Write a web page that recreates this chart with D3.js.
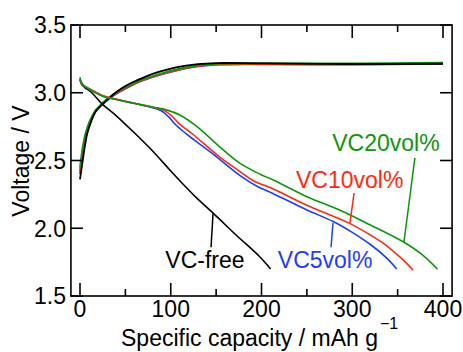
<!DOCTYPE html>
<html>
<head>
<meta charset="utf-8">
<script src="https://cdn.jsdelivr.net/npm/d3@7"></script>
<style>
  body { margin: 0; background: #fff; }
  text { font-family: "Liberation Sans", Arial, Helvetica, sans-serif; }
</style>
</head>
<body>
<svg id="chart" width="463" height="352"></svg>
<script>
// capacity (mAh/g), voltage (V)
const chargeFree = [[0,2.36],[3,2.5],[6,2.63],[8,2.70],[13,2.80],[18,2.87],[24,2.91],[32,2.96],[39,3.0],[50,3.05],[64,3.095],[80,3.14],[98,3.175],[115,3.198],[130,3.212],[150,3.219],[200,3.217],[300,3.212],[400,3.214]];
const chargeVC5 = [[0,2.40],[3,2.56],[6,2.67],[10,2.76],[16,2.85],[24,2.91],[33,2.96],[42,3.0],[55,3.047],[70,3.092],[88,3.132],[105,3.162],[120,3.183],[135,3.198],[155,3.208],[200,3.21],[300,3.208],[400,3.214]];
const chargeVC10 = [[0,2.42],[3,2.58],[6,2.68],[10,2.77],[16,2.855],[24,2.915],[33,2.965],[42,3.003],[55,3.05],[70,3.094],[88,3.134],[105,3.164],[120,3.185],[135,3.2],[155,3.21],[200,3.212],[300,3.21],[400,3.216]];
const chargeVC20 = [[0,2.45],[3,2.6],[6,2.70],[10,2.78],[16,2.86],[24,2.92],[33,2.97],[42,3.01],[55,3.055],[70,3.10],[88,3.14],[105,3.17],[120,3.19],[135,3.205],[155,3.215],[200,3.218],[300,3.216],[400,3.222]];

const dischargeFree = [[0,3.10],[2,3.06],[5,3.04],[13,3.0],[24,2.92],[40,2.83],[59,2.71],[80,2.57],[99,2.43],[115,2.315],[129,2.22],[147,2.11],[172,1.95],[198,1.79],[210,1.70]];
const dischargeVC5 = [[0,3.10],[1,3.08],[4,3.05],[12,3.02],[25,2.975],[40,2.95],[60,2.92],[80,2.89],[90,2.865],[98,2.82],[106,2.76],[121,2.676],[147,2.545],[176,2.39],[195,2.31],[213,2.255],[250,2.135],[279,2.05],[300,1.97],[320,1.88],[338,1.78],[349,1.70]];
const dischargeVC10 = [[0,3.10],[1,3.08],[4,3.055],[12,3.025],[25,2.98],[40,2.953],[60,2.922],[80,2.893],[93,2.868],[101,2.83],[108,2.78],[125,2.69],[154,2.525],[176,2.42],[191,2.35],[213,2.29],[250,2.17],[297,2.036],[320,1.95],[334,1.89],[356,1.766],[367,1.69]];
const dischargeVC20 = [[0,3.115],[1,3.085],[4,3.055],[12,3.02],[25,2.975],[40,2.95],[60,2.922],[80,2.895],[97,2.87],[110,2.836],[129,2.75],[154,2.60],[176,2.48],[198,2.40],[213,2.356],[250,2.233],[286,2.135],[320,2.024],[356,1.90],[378,1.80],[394,1.697]];

const seriesNames = ["VC-free", "VC5vol%", "VC10vol%", "VC20vol%"];
const seriesColors = ["#000000", "#1f3cff", "#ff2a10", "#0f960f"];
// label anchor (x, V) and leader line from/to (x, V)
const labelPos = [[94,1.707],[218,1.707],[238,2.297],[278,2.57]];
const leaderLines = [[[144.4,1.86],[146.6,2.11]],[[276.6,1.86],[278.8,2.04]],[[297.5,2.04],[302,2.26]],[[357,1.90],[369,2.52]]];

const xMajorTicks = [0, 100, 200, 300, 400];
const xMinorTicks = [50, 150, 250, 350];
const yTicks = [1.5, 2.0, 2.5, 3.0, 3.5];

const svg = d3.select('#chart');
const x = d3.scaleLinear().domain([0, 400]).range([80, 443]);
const y = d3.scaleLinear().domain([1.5, 3.5]).range([296, 25]);
const plotLeft = x(-10), plotRight = x(410), plotTop = y(3.5), plotBottom = y(1.5);

svg.append('defs').append('clipPath').attr('id', 'clip')
  .append('rect').attr('x', plotLeft).attr('y', plotTop)
  .attr('width', plotRight - plotLeft).attr('height', plotBottom - plotTop);

const line = d3.line().x(d => x(d[0])).y(d => y(d[1])).curve(d3.curveCatmullRom.alpha(0.5));

const charges = [chargeFree, chargeVC5, chargeVC10, chargeVC20];
const discharges = [dischargeFree, dischargeVC5, dischargeVC10, dischargeVC20];

const plot = svg.append('g').attr('clip-path', 'url(#clip)');
// draw order: blue, red, green, black on charge
[1, 2, 3, 0].forEach(i => {
  plot.append('path').datum(charges[i]).attr('d', line)
    .attr('fill', 'none').attr('stroke', seriesColors[i]).attr('stroke-width', 1.8);
});
[0, 1, 2, 3].forEach(i => {
  plot.append('path').datum(discharges[i]).attr('d', line)
    .attr('fill', 'none').attr('stroke', seriesColors[i]).attr('stroke-width', 1.6);
});

// frame
svg.append('rect').attr('x', plotLeft).attr('y', plotTop)
  .attr('width', plotRight - plotLeft).attr('height', plotBottom - plotTop)
  .attr('fill', 'none').attr('stroke', '#000').attr('stroke-width', 1.6);

// ticks, inward on all sides
const tickG = svg.append('g').attr('stroke', '#000').attr('stroke-width', 1.6);
xMajorTicks.forEach(t => {
  tickG.append('line').attr('x1', x(t)).attr('x2', x(t)).attr('y1', plotBottom).attr('y2', plotBottom - 13);
  tickG.append('line').attr('x1', x(t)).attr('x2', x(t)).attr('y1', plotTop).attr('y2', plotTop + 13);
});
xMinorTicks.forEach(t => {
  tickG.append('line').attr('x1', x(t)).attr('x2', x(t)).attr('y1', plotBottom).attr('y2', plotBottom - 7);
  tickG.append('line').attr('x1', x(t)).attr('x2', x(t)).attr('y1', plotTop).attr('y2', plotTop + 7);
});
yTicks.forEach(t => {
  tickG.append('line').attr('x1', plotLeft).attr('x2', plotLeft + 12).attr('y1', y(t)).attr('y2', y(t));
  tickG.append('line').attr('x1', plotRight).attr('x2', plotRight - 12).attr('y1', y(t)).attr('y2', y(t));
});

// tick labels
svg.append('g').selectAll('text').data(xMajorTicks).join('text')
  .attr('x', d => x(d)).attr('y', 317).attr('text-anchor', 'middle')
  .attr('font-size', 23).text(d => d);
svg.append('g').selectAll('text').data(yTicks).join('text')
  .attr('x', 66).attr('y', d => y(d)).attr('dy', '0.36em').attr('text-anchor', 'end')
  .attr('font-size', 23).text(d => d.toFixed(1));

// axis titles
const xt = svg.append('text').attr('x', 121).attr('y', 346).attr('font-size', 23);
xt.append('tspan').text('Specific capacity / mAh g');
xt.append('tspan').attr('dx', 2).attr('dy', -17).attr('font-size', 16).text('\u22121');
svg.append('text').attr('transform', 'translate(29,161) rotate(-90)')
  .attr('text-anchor', 'middle').attr('font-size', 23).text('Voltage / V');

// labels and leader lines
seriesNames.forEach((name, i) => {
  svg.append('line')
    .attr('x1', x(leaderLines[i][0][0])).attr('y1', y(leaderLines[i][0][1]))
    .attr('x2', x(leaderLines[i][1][0])).attr('y2', y(leaderLines[i][1][1]))
    .attr('stroke', seriesColors[i]).attr('stroke-width', 1.5);
  svg.append('text').attr('x', x(labelPos[i][0])).attr('y', y(labelPos[i][1]))
    .attr('font-size', 23).attr('fill', seriesColors[i]).text(name);
});
</script>
</body>
</html>
